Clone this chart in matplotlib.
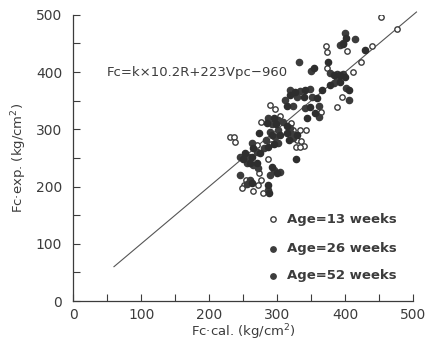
import matplotlib.pyplot as plt
import numpy as np

# Age = 13 weeks (open circles)
x13 = [453, 476, 372, 373, 403, 439, 423, 411, 373, 395, 388, 364, 290, 297, 304, 277,
       321, 334, 343, 324, 230, 236, 238, 329, 335, 340, 328, 334, 270, 286, 254, 251,
       248, 274, 277, 272, 279, 265, 291]
y13 = [497, 476, 446, 436, 437, 446, 417, 400, 407, 357, 339, 330, 343, 335, 323, 313,
       311, 299, 299, 298, 287, 287, 277, 281, 279, 271, 270, 270, 273, 249, 212, 203,
       197, 223, 212, 203, 188, 192, 274]

# Age = 26 weeks (filled)
x26 = [400, 397, 392, 415, 332, 350, 378, 388, 397, 388, 383, 402, 405, 319, 334, 349,
       329, 351, 341, 361, 361, 311, 324, 287, 302, 292, 309, 319, 322, 324, 302, 297,
       290, 284, 280, 302, 263, 270, 246, 258, 255, 265, 272, 295, 304, 290, 246, 255,
       287, 260]
y26 = [468, 451, 448, 457, 418, 402, 398, 397, 397, 386, 381, 372, 351, 369, 367, 370,
       357, 357, 337, 340, 322, 351, 340, 319, 316, 310, 313, 302, 292, 284, 299, 287,
       296, 281, 267, 276, 276, 261, 252, 251, 241, 238, 232, 229, 226, 220, 220, 204,
       194, 212]

# Age = 52 weeks (filled)
x52 = [402, 397, 429, 354, 375, 383, 393, 400, 393, 378, 406, 366, 326, 341, 319, 339,
       358, 349, 356, 314, 344, 295, 285, 299, 314, 314, 329, 317, 304, 273, 292, 286,
       275, 295, 265, 253, 250, 263, 260, 270, 292, 300, 328, 263, 286, 288]
y52 = [459, 449, 439, 408, 417, 395, 395, 391, 383, 378, 369, 369, 366, 369, 360, 357,
       354, 339, 328, 340, 319, 319, 311, 310, 305, 294, 290, 281, 290, 293, 290, 270,
       259, 274, 267, 258, 248, 252, 242, 241, 235, 223, 249, 207, 203, 188]

line_x = [60, 505]
legend_labels = ['Age=13 weeks', 'Age=26 weeks', 'Age=52 weeks']

ink = '#3c3c3c'
fig = plt.figure(figsize=(4.33, 3.46), dpi=100)
ax = fig.add_axes([0.169, 0.130, 0.785, 0.827])

ax.plot(line_x, line_x, color='#555555', lw=0.8, clip_on=False)
ax.scatter(x13, y13, s=15, facecolors='white', edgecolors=ink, linewidths=1.0, zorder=3)
ax.scatter(x26, y26, s=20, color=ink, zorder=3)
ax.scatter(x52, y52, s=20, color='#2e2e2e', zorder=3)

# legend drawn as markers + text
ax.scatter([294], [143], s=15, facecolors='white', edgecolors=ink, linewidths=1.0)
ax.scatter([294, 294], [91, 44], s=15, color=ink)
for yy, lab in zip([143, 91, 44], legend_labels):
    ax.text(314, yy, lab, fontsize=9.5, color=ink, va='center', fontweight='bold')

ax.text(50, 400, 'Fc=k×10.2R+223Vpc−960', fontsize=9.5, color=ink, va='center')

ax.set_xlim(0, 500)
ax.set_ylim(0, 500)
ax.set_xticks(range(0, 501, 100))
ax.set_yticks(range(0, 501, 100))
ax.set_xticks(range(0, 501, 50), minor=True)
ax.set_yticks(range(0, 501, 50), minor=True)
ax.tick_params(which='both', direction='in', length=5, width=0.8, color=ink,
               labelcolor=ink, labelsize=10)
ax.tick_params(axis='x', pad=5)
ax.tick_params(axis='y', pad=8)
for s in ['top', 'right']:
    ax.spines[s].set_visible(False)
for s in ['left', 'bottom']:
    ax.spines[s].set_color(ink)
    ax.spines[s].set_linewidth(0.9)

ax.set_xlabel('Fc·cal. (kg/cm$^2$)', fontsize=9.5, color=ink, labelpad=0)
ax.set_ylabel('Fc·exp. (kg/cm$^2$)', fontsize=9.5, color=ink, labelpad=5)

fig.savefig('out.png', dpi=100)
